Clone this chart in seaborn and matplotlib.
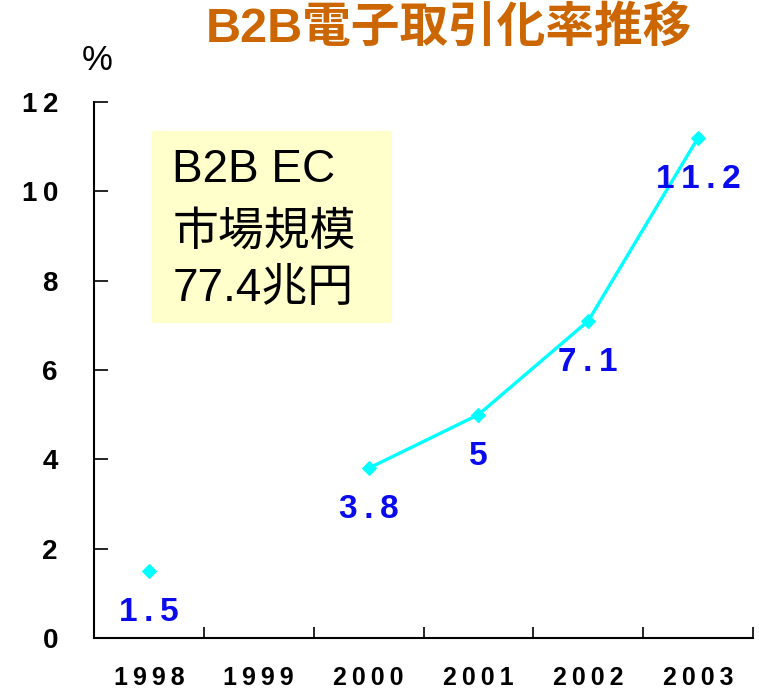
import matplotlib
matplotlib.use("Agg")
import matplotlib.pyplot as plt
from matplotlib.patches import Rectangle
import seaborn as sns
import pandas as pd
import numpy as np

# data
years = ["1998", "1999", "2000", "2001", "2002", "2003"]
rate = [1.5, np.nan, 3.8, 5.0, 7.1, 11.2]
box_lines = ["B2B EC", "市場規模", "77.4兆円"]
title = "B2B電子取引化率推移"

THIN = "\u2009"


def spaced(s):
    # the original uses letter-spaced digits
    return THIN.join(s)


sns.set_theme(style="white")
plt.rcParams["font.family"] = ["Liberation Sans", "Noto Sans CJK JP", "DejaVu Sans"]

df = pd.DataFrame({"pos": np.arange(len(years)), "year": years, "rate": rate})
# break the line where a year is missing
df["seg"] = df["rate"].isna().cumsum()
df = df.dropna(subset=["rate"])

fig = plt.figure(figsize=(7.59, 6.91), dpi=100)
ax = fig.add_axes([94 / 759, 1 - 638 / 691, (753 - 94) / 759, (638 - 102) / 691])

sns.lineplot(
    data=df, x="pos", y="rate", units="seg", estimator=None,
    color="#00FFFF", linewidth=2.4, marker="D", markersize=7,
    markeredgecolor="#00FFFF", ax=ax, legend=False, zorder=3
)

for _, row in df.iterrows():
    lab = spaced(f"{row.rate:g}")
    ax.annotate(
        lab, xy=(row.pos, row.rate), xytext=(0, -30), textcoords="offset points",
        ha="center", va="center", fontsize=24, fontweight="bold",
        color="#0A0AEE", zorder=4
    )

yt = np.arange(0, 13, 2)
ax.set_xlim(-0.5, len(years) - 0.5)
ax.set_ylim(0, 12)
ax.set_yticks(yt)
ax.set_yticklabels([spaced(str(v)) for v in yt])
ax.set_xticks(np.arange(len(years)) + 0.5)
ax.set_xticklabels([])
ax.set_xticks(np.arange(len(years)), minor=True)
ax.set_xticklabels([spaced(y) for y in years], minor=True)
ax.set_xlabel("")
ax.set_ylabel("")

for s in ["top", "right"]:
    ax.spines[s].set_visible(False)
for s in ["left", "bottom"]:
    ax.spines[s].set_color("black")
    ax.spines[s].set_linewidth(1.5)

ax.tick_params(axis="y", which="major", direction="in", length=10, width=1.2,
               color="black", left=True, pad=26, labelsize=20)
ax.tick_params(axis="x", which="major", direction="in", length=8, width=1.2,
               color="black", bottom=True)
ax.tick_params(axis="x", which="minor", length=0, pad=20, labelsize=18)
for t in ax.get_yticklabels() + ax.get_xticklabels(minor=True):
    t.set_fontweight("bold")
    t.set_color("black")

# yellow info box
ax.add_patch(Rectangle((0.088, 0.588), 0.364, 0.358, transform=ax.transAxes,
                       facecolor="#FFFFCC", edgecolor="none", zorder=0))
box_y = [0.874, 0.756, 0.652]
for line, yy in zip(box_lines, box_y):
    ax.text(0.119, yy, line, transform=ax.transAxes,
            ha="left", va="center", fontsize=33, color="black", zorder=1)

fig.text(449 / 759, 1 - 29 / 691, title, ha="center", va="center",
         fontsize=35, fontweight="bold", color="#CC6600",
         family=["Liberation Sans", "Noto Sans CJK JP"])
fig.text(97 / 759, 1 - 60 / 691, "%", ha="center", va="center", fontsize=25,
         color="black")

fig.savefig("out.png", dpi=100)
